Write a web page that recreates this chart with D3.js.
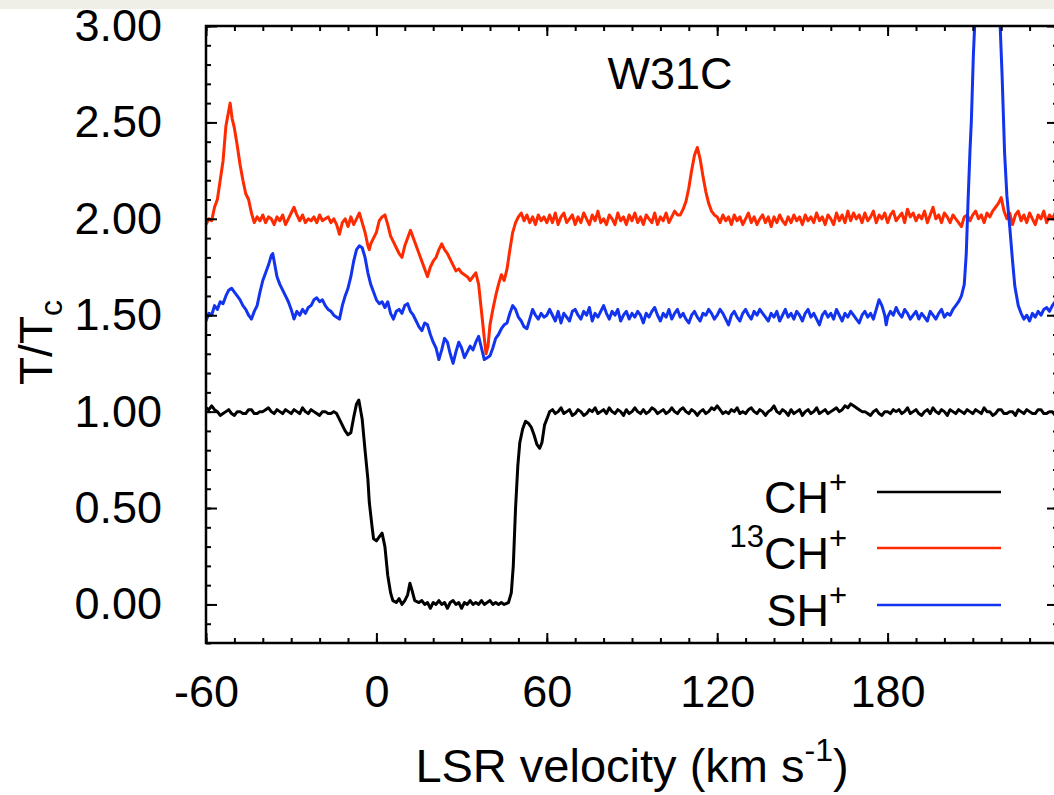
<!DOCTYPE html>
<html lang="en">
<head>
<meta charset="utf-8">
<script src="https://cdnjs.cloudflare.com/ajax/libs/d3/7.8.5/d3.min.js"></script>
<style>
	body { margin: 0; background: #fff; }
	svg { display: block; font-family: "Liberation Sans", Arial, Helvetica, sans-serif; }
	.tick text { font-size: 45px; fill: #000; }
	.tick line { stroke: #000; stroke-width: 2; }
</style>
</head>
<body>
<svg id="chart" width="1054" height="795"></svg>
<script>
// values: [LSR velocity (km/s), T/Tc]
const chPlus = [
	[-60,1.02],[-59,1.01],[-58,1.03],[-57,1.01],[-56,1.00],[-55,0.98],[-54,0.99],[-53,1.00],[-52,1.01],[-51,0.99],
	[-50,0.98],[-49,1.00],[-48,1.00],[-47,0.99],[-46,0.99],[-45,1.01],[-44,1.01],[-43,0.99],[-42,0.99],[-41,1.00],
	[-40,1.00],[-39,1.01],[-38,1.02],[-37,1.00],[-36,0.99],[-35,1.01],[-34,1.00],[-33,0.99],[-32,1.01],[-31,1.00],
	[-30,0.99],[-29,1.01],[-28,1.00],[-27,0.99],[-26,1.02],[-25,1.00],[-24,0.99],[-23,1.01],[-22,1.00],[-21,0.99],
	[-20,0.98],[-19,1.00],[-18,1.00],[-17,0.99],[-16,0.99],[-15,1.00],[-14,0.99],[-13,0.96],[-12,0.93],[-11,0.90],
	[-10,0.88],[-9,0.89],[-8,0.97],[-7,1.04],[-6.2,1.06],[-5,0.96],[-4,0.80],[-3,0.65],[-2.5,0.53],[-1.5,0.40],
	[-1,0.34],[0,0.33],[1,0.35],[2,0.37],[3,0.30],[4,0.15],[5,0.06],[5.8,0.02],[7,0.01],[8,0.03],
	[9,0.00],[10,0.02],[11,0.05],[11.8,0.11],[12.6,0.07],[13.5,0.02],[15,0.01],[16,0.02],[17,0.00],[18,0.01],
	[19,-0.02],[20,0.01],[21,0.00],[22,0.02],[23,0.00],[24,0.01],[25,-0.02],[26,0.01],[27,0.02],[28,0.00],
	[29,0.01],[30,-0.02],[31,0.01],[32,0.00],[33,0.02],[34,0.00],[35,0.01],[36,0.00],[37,0.02],[38,0.00],
	[39,0.01],[40,0.02],[41,0.00],[42,0.01],[43,0.00],[44,0.01],[45,0.00],[46.5,0.01],[47.5,0.06],[48.2,0.20],
	[49,0.50],[49.8,0.72],[50.5,0.84],[51.5,0.91],[52.5,0.95],[53.5,0.94],[54.5,0.92],[55.5,0.88],[56.5,0.83],[57.5,0.81],
	[58.3,0.84],[59.2,0.93],[60.5,0.98],[61,1.00],[62,1.01],[63,0.99],[64,1.00],[65,1.02],[66,0.99],[67,1.00],
	[68,1.01],[69,0.98],[70,0.99],[71,1.01],[72,1.00],[73,0.98],[74,0.99],[75,1.01],[76,1.00],[77,1.02],
	[78,0.99],[79,1.00],[80,1.01],[81,0.99],[82,1.02],[83,1.00],[84,0.99],[85,1.01],[86,1.00],[87,0.98],
	[88,1.01],[89,0.99],[90,1.00],[91,1.02],[92,1.00],[93,0.99],[94,1.01],[95,0.99],[96,1.00],[97,1.02],
	[98,1.01],[99,0.99],[100,1.00],[101,1.01],[102,0.99],[103,1.00],[104,1.02],[105,1.00],[106,0.99],[107,1.01],
	[108,1.02],[109,1.00],[110,0.99],[111,1.01],[112,1.00],[113,0.98],[114,1.00],[115,1.01],[116,0.99],[117,1.00],
	[118,1.02],[119,1.01],[120,1.03],[121,1.01],[122,0.99],[123,1.00],[124,0.99],[125,1.01],[126,1.00],[127,1.02],
	[128,0.99],[129,1.00],[130,0.99],[131,1.01],[132,1.02],[133,1.00],[134,0.99],[135,1.01],[136,1.00],[137,0.98],
	[138,1.00],[139,1.01],[140,1.03],[141,1.00],[142,0.99],[143,1.01],[144,1.00],[145,0.98],[146,1.01],[147,0.99],
	[148,1.00],[149,1.01],[150,0.98],[151,1.00],[152,1.01],[153,0.99],[154,1.00],[155,1.02],[156,0.99],[157,1.00],
	[158,1.01],[159,0.99],[160,1.00],[161,1.01],[162,1.02],[163,1.00],[164,1.01],[165,1.03],[166,1.02],[167,1.04],
	[168,1.03],[169,1.02],[170,1.01],[171,1.00],[172,1.00],[173,0.99],[174,0.98],[175,1.00],[176,1.01],[177,0.99],
	[178,0.98],[179,1.00],[180,1.00],[181,0.99],[182,1.01],[183,1.00],[184,1.01],[185,0.99],[186,1.00],[187,1.02],
	[188,0.99],[189,1.00],[190,1.01],[191,0.99],[192,0.98],[193,1.00],[194,1.01],[195,0.99],[196,1.02],[197,1.00],
	[198,0.99],[199,1.01],[200,1.00],[201,0.98],[202,1.01],[203,1.00],[204,0.99],[205,1.01],[206,1.00],[207,0.99],
	[208,1.01],[209,1.00],[210,0.99],[211,1.01],[212,1.00],[213,0.99],[214,1.02],[215,1.00],[216,1.00],[217,0.98],
	[218,0.99],[219,1.01],[220,1.01],[221,0.99],[222,0.99],[223,1.00],[224,1.00],[225,0.98],[226,1.01],[227,1.00],
	[228,0.99],[229,1.01],[230,1.00],[231,0.99],[232,0.99],[233,1.01],[234,1.01],[235,0.99],[236,0.99],[237,1.00],
	[238,1.00],[239,0.98],[240,0.99]
];

const ch13Plus = [
	[-60,1.97],[-59,2.00],[-58,1.99],[-57,2.06],[-56,2.10],[-55,2.20],[-54,2.30],[-53,2.48],[-52,2.56],[-51.5,2.60],
	[-50.8,2.52],[-50,2.47],[-49,2.38],[-48,2.28],[-47,2.20],[-46,2.13],[-45,2.10],[-44,2.03],[-43,1.98],[-42,2.01],
	[-41,1.99],[-40,2.02],[-39,1.98],[-38,2.01],[-37,2.00],[-36,1.97],[-35,2.01],[-34,1.99],[-33,2.02],[-32,1.97],
	[-31,2.00],[-30,2.03],[-29,2.06],[-28,2.02],[-27,1.99],[-26,2.02],[-25,1.98],[-24,2.00],[-23,1.99],[-22,2.01],
	[-21,1.98],[-20,2.02],[-19,1.99],[-18,2.00],[-17,2.01],[-16,1.98],[-15,2.00],[-14,1.97],[-13,1.92],[-12,1.98],
	[-11,2.00],[-10,1.96],[-9,2.01],[-8,1.97],[-7,2.00],[-6,2.03],[-5,1.98],[-4,1.93],[-3,1.86],[-2.5,1.84],
	[-2,1.87],[-1,1.90],[0,1.93],[1,1.99],[2,2.01],[3,2.02],[4,1.97],[5,1.91],[6,1.88],[7,1.85],
	[8,1.82],[9,1.80],[10,1.86],[11,1.90],[12,1.94],[13,1.90],[14,1.86],[15,1.82],[16,1.78],[17,1.74],
	[18,1.70],[19,1.75],[20,1.78],[21,1.80],[22,1.84],[23,1.87],[24,1.84],[25,1.82],[26,1.79],[27,1.76],
	[28,1.73],[29,1.74],[30,1.72],[31,1.71],[32,1.70],[33,1.68],[34,1.70],[35,1.72],[36,1.66],[37,1.52],
	[38,1.38],[38.6,1.30],[39.3,1.34],[40,1.45],[41,1.53],[42,1.60],[43,1.66],[44,1.71],[45,1.68],[46,1.74],
	[47,1.84],[48,1.93],[49,1.98],[50,2.01],[51,2.03],[52,1.99],[53,2.02],[54,1.98],[55,2.01],[56,1.97],
	[57,2.02],[58,1.99],[59,2.01],[60,1.98],[61,2.02],[62,1.98],[63,2.03],[64,1.97],[65,2.01],[66,2.03],
	[67,1.98],[68,2.00],[69,2.02],[70,1.97],[71,2.01],[72,1.98],[73,2.03],[74,2.00],[75,1.97],[76,2.02],
	[77,1.99],[78,2.04],[79,1.98],[80,2.00],[81,1.97],[82,2.02],[83,2.00],[84,1.97],[85,2.03],[86,1.99],
	[87,2.01],[88,1.97],[89,2.02],[90,1.99],[91,2.03],[92,1.98],[93,2.01],[94,1.97],[95,2.02],[96,2.00],
	[97,1.98],[98,2.03],[99,1.97],[100,2.01],[101,1.99],[102,2.03],[103,1.98],[104,2.01],[105,2.04],[106,2.02],
	[107,2.02],[108,2.05],[109,2.09],[110,2.16],[111,2.25],[112,2.33],[113,2.37],[114,2.31],[115,2.22],[116,2.14],
	[117,2.08],[118,2.04],[119,2.02],[120,2.01],[121,1.98],[122,2.02],[123,1.99],[124,2.01],[125,1.97],[126,2.02],
	[127,1.99],[128,2.01],[129,1.97],[130,2.00],[131,2.03],[132,1.98],[133,2.01],[134,1.97],[135,2.00],[136,2.02],
	[137,1.98],[138,2.01],[139,1.96],[140,2.01],[141,1.98],[142,2.02],[143,1.99],[144,1.97],[145,2.01],[146,1.98],
	[147,2.02],[148,1.99],[149,2.01],[150,1.97],[151,2.02],[152,1.99],[153,2.01],[154,1.98],[155,2.03],[156,1.99],
	[157,2.01],[158,1.97],[159,2.02],[160,2.00],[161,1.97],[162,2.03],[163,1.99],[164,2.02],[165,1.98],[166,2.04],
	[167,1.99],[168,2.03],[169,2.00],[170,2.02],[171,1.98],[172,2.03],[173,1.99],[174,2.01],[175,2.04],[176,1.98],
	[177,2.02],[178,2.00],[179,2.03],[180,1.98],[181,2.02],[182,2.04],[183,1.99],[184,2.01],[185,2.03],[186,1.98],
	[187,2.05],[188,2.01],[189,2.03],[190,1.99],[191,2.02],[192,2.00],[193,2.04],[194,1.98],[195,2.02],[196,2.06],
	[197,2.00],[198,2.02],[199,1.98],[200,2.03],[201,2.01],[202,1.98],[203,2.02],[204,2.00],[205,1.98],[206,1.96],
	[207,2.01],[208,2.02],[209,1.99],[210,2.02],[211,2.04],[212,2.00],[213,2.02],[214,1.98],[215,2.03],[216,2.01],
	[217,2.04],[218,2.06],[219,2.08],[220,2.11],[221,2.04],[222,2.00],[223,2.03],[224,1.97],[225,2.02],[226,2.04],
	[227,1.99],[228,2.02],[229,1.98],[230,2.03],[231,2.00],[232,1.97],[233,2.02],[234,2.00],[235,2.04],[236,1.98],
	[237,2.02],[238,2.00],[239,2.03],[240,2.01]
];

const shPlus = [
	[-60,1.47],[-59,1.51],[-58,1.50],[-57,1.55],[-56,1.53],[-55,1.57],[-54,1.56],[-53,1.60],[-52,1.63],[-51,1.64],
	[-50,1.62],[-49,1.60],[-48,1.58],[-47,1.55],[-46,1.53],[-45,1.50],[-44,1.48],[-43,1.52],[-42,1.55],[-41,1.62],
	[-40,1.68],[-39,1.72],[-38,1.76],[-37,1.81],[-36.5,1.82],[-36,1.78],[-35,1.70],[-34,1.66],[-33,1.63],[-32,1.60],
	[-31,1.57],[-30,1.53],[-29,1.48],[-28,1.52],[-27,1.50],[-26,1.53],[-25,1.51],[-24,1.54],[-23,1.55],[-22,1.58],
	[-21,1.59],[-20,1.57],[-19,1.58],[-18,1.55],[-17,1.53],[-16,1.52],[-15,1.50],[-14,1.49],[-13,1.48],[-12,1.55],
	[-11,1.60],[-10,1.64],[-9,1.70],[-8,1.78],[-7,1.84],[-6,1.86],[-5,1.85],[-4,1.80],[-3,1.72],[-2,1.66],
	[-1,1.62],[0,1.58],[1,1.56],[2,1.57],[3,1.54],[4,1.57],[5,1.51],[6,1.48],[7,1.52],[8,1.53],
	[9,1.51],[10,1.55],[11,1.56],[12,1.52],[13,1.50],[14,1.47],[15,1.44],[16,1.42],[17,1.46],[18,1.45],
	[19,1.40],[20,1.36],[21,1.33],[22,1.27],[23,1.32],[24,1.38],[25,1.36],[26,1.30],[27,1.25],[28,1.31],
	[29,1.36],[30,1.33],[31,1.28],[32,1.31],[33,1.34],[34,1.32],[35,1.36],[36,1.39],[37,1.33],[38,1.27],
	[39,1.28],[40,1.29],[41,1.33],[42,1.38],[43,1.40],[44,1.43],[45,1.45],[46,1.46],[47,1.51],[48,1.55],
	[49,1.53],[50,1.49],[51,1.47],[52,1.44],[53,1.43],[54,1.48],[55,1.53],[56,1.50],[57,1.48],[58,1.51],
	[59,1.49],[60,1.50],[61,1.53],[62,1.50],[63,1.47],[64,1.52],[65,1.46],[66,1.51],[67,1.49],[68,1.47],
	[69,1.52],[70,1.53],[71,1.50],[72,1.48],[73,1.52],[74,1.50],[75,1.54],[76,1.47],[77,1.51],[78,1.49],
	[79,1.52],[80,1.55],[81,1.51],[82,1.48],[83,1.52],[84,1.50],[85,1.53],[86,1.47],[87,1.50],[88,1.52],
	[89,1.48],[90,1.51],[91,1.49],[92,1.52],[93,1.50],[94,1.46],[95,1.51],[96,1.49],[97,1.52],[98,1.54],
	[99,1.50],[100,1.47],[101,1.51],[102,1.49],[103,1.53],[104,1.48],[105,1.51],[106,1.53],[107,1.49],[108,1.51],
	[109,1.48],[110,1.46],[111,1.50],[112,1.52],[113,1.49],[114,1.47],[115,1.51],[116,1.50],[117,1.53],[118,1.51],
	[119,1.48],[120,1.50],[121,1.53],[122,1.51],[123,1.48],[124,1.45],[125,1.50],[126,1.52],[127,1.49],[128,1.47],
	[129,1.51],[130,1.53],[131,1.50],[132,1.48],[133,1.52],[134,1.50],[135,1.53],[136,1.51],[137,1.49],[138,1.47],
	[139,1.51],[140,1.49],[141,1.52],[142,1.47],[143,1.50],[144,1.53],[145,1.49],[146,1.51],[147,1.48],[148,1.52],
	[149,1.50],[150,1.47],[151,1.51],[152,1.53],[153,1.49],[154,1.51],[155,1.48],[156,1.45],[157,1.50],[158,1.52],
	[159,1.49],[160,1.51],[161,1.48],[162,1.53],[163,1.50],[164,1.47],[165,1.51],[166,1.49],[167,1.52],[168,1.50],
	[169,1.48],[170,1.46],[171,1.50],[172,1.52],[173,1.49],[174,1.51],[175,1.48],[176,1.53],[177,1.58],[178,1.55],
	[179,1.50],[179.5,1.45],[180,1.49],[181,1.52],[182,1.50],[183,1.54],[184,1.51],[185,1.49],[186,1.53],[187,1.51],
	[188,1.48],[189,1.50],[190,1.52],[191,1.48],[192,1.51],[193,1.49],[194,1.47],[195,1.52],[196,1.50],[197,1.48],
	[198,1.51],[199,1.53],[200,1.49],[201,1.51],[202,1.50],[203,1.53],[204,1.55],[205,1.57],[206,1.60],[207,1.66],
	[207.7,1.82],[208.3,2.08],[209,2.35],[209.5,2.51],[210.2,2.85],[210.8,3.05],[212,3.40],[214,3.60],[216,3.60],[218,3.40],
	[219.5,3.05],[220.3,2.75],[221.2,2.34],[222,2.12],[223,1.96],[224,1.78],[224.8,1.65],[226,1.55],[227,1.51],[228,1.48],
	[229,1.50],[230,1.47],[231,1.51],[232,1.49],[233,1.52],[234,1.50],[235,1.53],[236,1.54],[237,1.52],[238,1.55],
	[239,1.57],[240,1.58]
];

const xTicks = [-60, 0, 60, 120, 180, 240];
const xTickLabels = ["-60", "0", "60", "120", "180", ""];
const yTicks = [0, 0.5, 1, 1.5, 2, 2.5, 3];
const yTickLabels = ["0.00", "0.50", "1.00", "1.50", "2.00", "2.50", "3.00"];
const xMinor = d3.range(-60, 241, 10);
const yMinor = d3.range(-2, 31).map(d => d / 10);

const seriesNames = ["CH", "13CH", "SH"];
const seriesColors = ["#000000", "#ff2a00", "#1234ee"];

const svg = d3.select("#chart");
const pLeft = 206, pRight = 1058, pTop = 26, pBottom = 643;

const x = d3.scaleLinear().domain([-60, 240]).range([pLeft, pRight]);
const y = d3.scaleLinear().domain([-0.2, 3.0]).range([pBottom, pTop]);

// grey strip along the top edge of the screenshot
svg.append("rect").attr("x", 0).attr("y", 0).attr("width", 1054).attr("height", 9).attr("fill", "#efeee7");

svg.append("clipPath").attr("id", "plotclip")
	.append("rect").attr("x", pLeft).attr("y", pTop).attr("width", pRight - pLeft).attr("height", pBottom - pTop);

const line = d3.line().x(d => x(d[0])).y(d => y(d[1]));

const plot = svg.append("g").attr("clip-path", "url(#plotclip)");
[chPlus, ch13Plus, shPlus].forEach((data, i) => {
	plot.append("path")
		.datum(data)
		.attr("d", line)
		.attr("fill", "none")
		.attr("stroke", seriesColors[i])
		.attr("stroke-width", 3)
		.attr("stroke-linejoin", "round");
});

// axes: inward ticks on all four sides
function cleanAxis(g) { g.select(".domain").remove(); }

svg.append("g").attr("transform", `translate(0,${pBottom})`)
	.call(d3.axisBottom(x).tickValues(xMinor).tickSize(-5).tickFormat("")).call(cleanAxis);
svg.append("g").attr("transform", `translate(0,${pBottom})`)
	.call(d3.axisBottom(x).tickValues(xTicks).tickSize(-10).tickPadding(32).tickFormat((d, i) => xTickLabels[i])).call(cleanAxis);
svg.append("g").attr("transform", `translate(0,${pTop})`)
	.call(d3.axisTop(x).tickValues(xMinor).tickSize(-5).tickFormat("")).call(cleanAxis);
svg.append("g").attr("transform", `translate(0,${pTop})`)
	.call(d3.axisTop(x).tickValues(xTicks).tickSize(-10).tickFormat("")).call(cleanAxis);

svg.append("g").attr("transform", `translate(${pLeft},0)`)
	.call(d3.axisLeft(y).tickValues(yMinor).tickSize(-5).tickFormat("")).call(cleanAxis);
svg.append("g").attr("transform", `translate(${pLeft},0)`)
	.call(d3.axisLeft(y).tickValues(yTicks).tickSize(-11).tickPadding(44).tickFormat((d, i) => yTickLabels[i])).call(cleanAxis);
svg.append("g").attr("transform", `translate(${pRight},0)`)
	.call(d3.axisRight(y).tickValues(yMinor).tickSize(-5).tickFormat("")).call(cleanAxis);
svg.append("g").attr("transform", `translate(${pRight},0)`)
	.call(d3.axisRight(y).tickValues(yTicks).tickSize(-11).tickFormat("")).call(cleanAxis);

svg.selectAll("g").attr("font-family", null).attr("font-size", null);

svg.append("rect")
	.attr("x", pLeft).attr("y", pTop).attr("width", pRight - pLeft).attr("height", pBottom - pTop)
	.attr("fill", "none").attr("stroke", "#000").attr("stroke-width", 2.5);

// axis titles
const xTitle = svg.append("text")
	.attr("x", (pLeft + pRight) / 2).attr("y", 782)
	.attr("text-anchor", "middle").attr("font-size", 47);
xTitle.append("tspan").text("LSR velocity (km s");
xTitle.append("tspan").attr("font-size", 32).attr("dy", -21).text("-1");
xTitle.append("tspan").attr("dy", 21).text(")");

const yTitle = svg.append("text")
	.attr("transform", `translate(52,${(pTop + pBottom) / 2 + 8}) rotate(-90)`)
	.attr("text-anchor", "middle").attr("font-size", 46);
yTitle.append("tspan").text("T/T");
yTitle.append("tspan").attr("font-size", 32).attr("dy", 10).text("c");

svg.append("text")
	.attr("x", 670).attr("y", 89)
	.attr("text-anchor", "middle").attr("font-size", 45)
	.text("W31C");

// legend
const legendRows = [492, 548, 605];
const legend = svg.append("g");
seriesNames.forEach((name, i) => {
	const ly = legendRows[i];
	const t = legend.append("text")
		.attr("x", 847).attr("y", ly + 21)
		.attr("text-anchor", "end").attr("font-size", 45);
	if (name === "13CH") {
		t.append("tspan").attr("font-size", 31).attr("dy", -22).text("13");
		t.append("tspan").attr("dy", 22).text("CH");
	} else {
		t.append("tspan").text(name);
	}
	t.append("tspan").attr("font-size", 31).attr("dy", -20).text("+");
	legend.append("line")
		.attr("x1", 877).attr("x2", 1001).attr("y1", ly).attr("y2", ly)
		.attr("stroke", seriesColors[i]).attr("stroke-width", 2.5);
});
</script>
</body>
</html>
